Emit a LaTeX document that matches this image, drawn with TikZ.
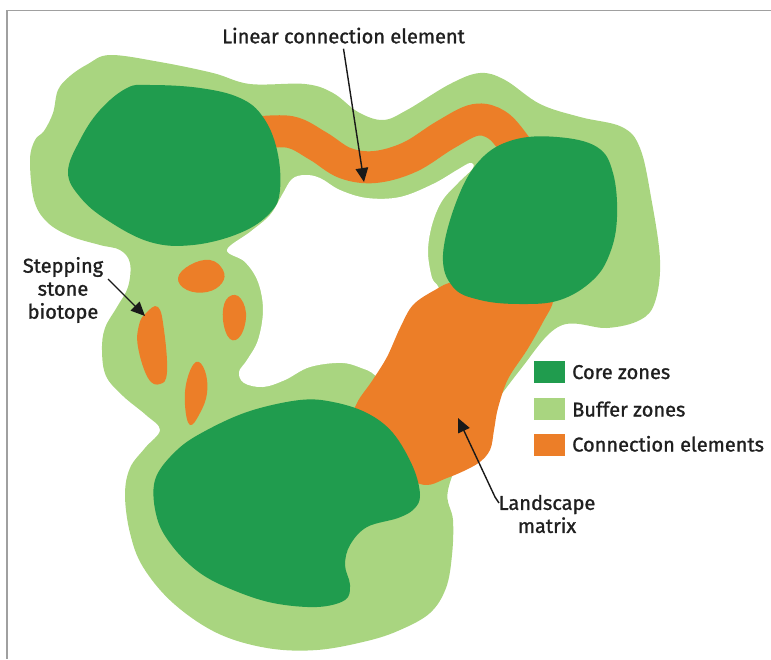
\documentclass[tikz,border=0pt]{standalone}
\usepackage{fontspec}
\setmainfont{Fira Sans}
\newfontfamily\medfont{Fira Sans}[RawFeature={embolden=1.2}]
\usetikzlibrary{arrows.meta}
\definecolor{core}{RGB}{32,156,78}
\definecolor{buffer}{RGB}{169,213,128}
\definecolor{conn}{RGB}{236,126,40}
\definecolor{frame}{RGB}{160,160,160}
\tikzset{
  corezone/.style={fill=core, draw=none},
  bufferzone/.style={fill=buffer, draw=none},
  connzone/.style={fill=conn, draw=none},
  hole/.style={fill=white, draw=none},
  arr/.style={draw=black!90, line width=1.4pt, -{Triangle[length=14pt,width=12.5pt]}},
  lbl/.style={inner sep=0pt, font=\medfont\fontsize{20}{23}\selectfont, align=center, text=black!88},
  legtext/.style={inner sep=0pt, anchor=base west, font=\medfont\fontsize{20}{24}\selectfont, text=black!88},
  legbox/.style={draw=none, minimum width=31pt, minimum height=22pt, inner sep=0pt}
}
\begin{document}
\begin{tikzpicture}[x=1pt, y=-1pt]
\useasboundingbox (0,0) rectangle (771,659);
% frame
\draw[frame, line width=1.3pt] (771,10.5) -- (7,10.5) -- (7,659);
% buffer zone (outer)
\fill[bufferzone] plot[smooth cycle, tension=0.6] coordinates {
 (30,160) (35,140) (44,131) (53,113) (58,90) (70,76) (88,64) (110,55) (160,62) (213,73) (250,84)
 (305,84) (333,93) (358,112) (383,120) (407,110) (450,84) (480,73) (505,80)
 (540,104) (580,117) (622,127) (640,148) (651,197) (660,260) (655,302) (640,320)
 (607,328) (560,326) (520,370) (470,440) (448,490) (453,520) (452,555) (446,588)
 (430,613) (400,630) (367,641) (317,650) (267,648) (217,633) (173,603) (143,567)
 (130,533) (125,495) (130,468) (145,448) (160,430) (146,415) (123,396) (106,376)
 (102,350) (105,328) (117,307) (128,287) (130,263) (120,250) (100,245) (70,236)
 (47,222) (34,200)};
% white hole
\fill[hole] plot[smooth cycle, tension=0.6] coordinates {
 (227,250) (250,232) (270,215) (282,195) (292,179) (305,175) (320,178) (340,190)
 (367,198) (400,197) (433,184) (457,170) (470,163) (473,168) (458,183) (442,201)
 (432,225) (428,252) (432,278) (438,292) (415,330) (385,375) (367,370) (343,363)
 (310,367) (285,380) (263,387) (244,383) (239,372) (247,360) (258,340) (263,310)
 (258,282) (245,262)};
% big connection element (landscape matrix)
\fill[connzone] plot[smooth cycle, tension=0.55] coordinates {
 (455,282) (435,290) (413,305) (400,328) (387,357) (372,381) (357,403) (352,425)
 (375,455) (420,484) (447,478) (477,464) (490,450) (494,430) (498,408) (508,379)
 (527,350) (543,322) (553,300) (540,285) (500,285)};
% linear connection element
\draw[conn, line width=32pt, line cap=round] plot[smooth, tension=0.6] coordinates {
 (252,133) (290,132) (318,146) (345,163) (375,167) (410,157) (445,135) (475,120)
 (497,125) (515,145) (525,162)};
% stepping stones
\fill[connzone] plot[smooth cycle, tension=0.7] coordinates {
 (178,278) (190,265) (210,260) (223,270) (222,283) (207,292) (187,290)};
\fill[connzone] plot[smooth cycle, tension=0.7] coordinates {
 (226,300) (238,296) (246,313) (241,335) (230,339) (223,320)};
\fill[connzone] plot[smooth cycle, tension=0.7] coordinates {
 (146,313) (158,307) (164,330) (167,372) (160,384) (148,378) (138,347) (139,325)};
\fill[connzone] plot[smooth cycle, tension=0.7] coordinates {
 (196,362) (205,371) (207,393) (200,413) (190,425) (185,405) (187,380)};
% core zones
\fill[corezone] plot[smooth cycle, tension=0.65] coordinates {
 (68,172) (80,140) (100,110) (127,88) (150,85) (200,88) (240,98) (263,117)
 (277,150) (280,190) (270,213) (240,233) (193,245) (150,242) (107,220) (80,197)};
\fill[corezone] plot[smooth cycle, tension=0.65] coordinates {
 (443,255) (457,200) (480,160) (513,140) (557,137) (597,147) (613,173) (617,217)
 (610,253) (593,280) (560,300) (520,304) (480,300) (453,287)};
\fill[corezone] plot[smooth cycle, tension=0.6] coordinates {
 (155,480) (177,450) (207,430) (250,411) (300,400) (333,402) (367,413) (393,433)
 (413,467) (420,495) (414,509) (398,518) (367,527) (350,545) (345,565) (350,585)
 (345,600) (317,607) (273,603) (233,590) (200,573) (173,547) (157,518)};
% labels
\node[lbl, anchor=base] (lin) at (343.5,43.3) {Linear connection element};
\node[lbl] (step) at (63,290) {Stepping\\stone\\biotope};
\node[lbl] (land) at (547,514) {Landscape\\matrix};
\coordinate (lintip) at (364,182);
\coordinate (stepfrom) at (108,279);
\coordinate (steptip) at (145,316);
\coordinate (landfrom) at (499,503);
\coordinate (landtip) at (458,418);
\draw[arr] ([yshift=-5pt]lin.south) -- (lintip);
\draw[arr] (stepfrom) -- (steptip);
\draw[arr] (landfrom) -- ++(-4,-6) -- (landtip);
% legend
\node[legbox, fill=core, anchor=north west] (lcore) at (534,361) {};
\node[legbox, fill=buffer, anchor=north west] (lbuf) at (534,398) {};
\node[legbox, fill=conn, anchor=north west] (lconn) at (534,434) {};
\node[legtext] (tcore) at (572,379) {Core zones};
\node[legtext] (tbuf) at (572,416.5) {Buffer zones};
\node[legtext] (tconn) at (572,451.5) {Connection elements};
\end{tikzpicture}
\end{document}
